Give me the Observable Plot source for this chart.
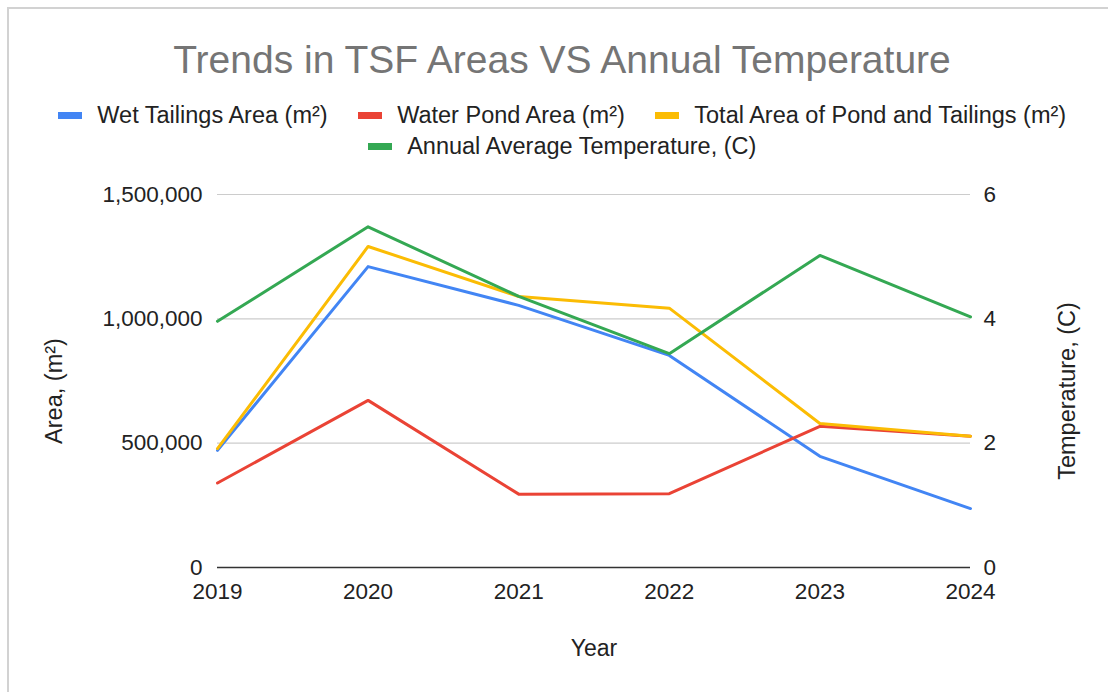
<!DOCTYPE html>
<html>
<head>
<meta charset="utf-8">
<script src="https://cdn.jsdelivr.net/npm/d3@7"></script>
<script src="https://cdn.jsdelivr.net/npm/@observablehq/plot@0.6"></script>
<style>
  html, body { margin: 0; padding: 0; background: #fff; overflow: hidden; }
  body { width: 1108px; height: 692px; position: relative; font-family: "Liberation Sans", Arial, sans-serif; }
  #card { position: absolute; left: 7px; top: 7px; width: 1200px; height: 800px;
          border-top: 2px solid #d2d2d2; border-left: 2px solid #d2d2d2; }
  #title { position: absolute; left: 0; top: 40px; width: 1124px; text-align: center;
           font-size: 39px; line-height: 1; color: #757575; white-space: nowrap; }
  .lrow { position: absolute; left: 0; width: 1124px; display: flex; justify-content: center;
          align-items: center; gap: 30px; font-size: 23.5px; line-height: 1; color: #222; white-space: nowrap; }
  .item { display: flex; align-items: center; }
  .sw { width: 24px; height: 7px; margin-right: 15.5px; }
  #chart { position: absolute; left: 0; top: 165px; }
</style>
</head>
<body>
<div id="card"></div>
<div id="title"></div>
<div class="lrow" id="row1" style="top:104px"></div>
<div class="lrow" id="row2" style="top:135px"></div>
<div id="chart"></div>
<script>
// ---- data ----
const titleText = "Trends in TSF Areas VS Annual Temperature";
const years = [2019, 2020, 2021, 2022, 2023, 2024];
const seriesNames = [
  "Wet Tailings Area (m²)",
  "Water Pond Area (m²)",
  "Total Area of Pond and Tailings (m²)",
  "Annual Average Temperature, (C)"
];
const seriesColors = ["#4285F4", "#EA4335", "#FBBC04", "#34A853"];
const wetTailings = [471000, 1210000, 1054000, 853000, 447000, 237000];
const waterPond   = [340000, 672000, 295000, 297000, 568000, 528000];
const totalArea   = [478000, 1291000, 1090000, 1043000, 579000, 528000];
const temperature = [3.96, 5.48, 4.36, 3.44, 5.02, 4.03];
const areaTicks = [0, 500000, 1000000, 1500000];
const tempTicks = [0, 2, 4, 6];
const xLabel = "Year";
const leftLabel = "Area, (m²)";
const rightLabel = "Temperature, (C)";

// ---- build ----
const k = areaTicks[areaTicks.length - 1] / tempTicks[tempTicks.length - 1];
const rows = [];
[wetTailings, waterPond, totalArea].forEach((arr, si) =>
  arr.forEach((v, i) => rows.push({year: years[i], value: v, series: seriesNames[si]})));
temperature.forEach((v, i) => rows.push({year: years[i], value: v * k, series: seriesNames[3]}));

document.getElementById("title").textContent = titleText;
function addItem(row, i) {
  const it = document.createElement("div"); it.className = "item";
  const sw = document.createElement("div"); sw.className = "sw"; sw.style.background = seriesColors[i];
  const tx = document.createElement("span"); tx.textContent = seriesNames[i];
  it.appendChild(sw); it.appendChild(tx); row.appendChild(it);
}
const r1 = document.getElementById("row1"), r2 = document.getElementById("row2");
addItem(r1, 0); addItem(r1, 1); addItem(r1, 2); addItem(r2, 3);

const chart = Plot.plot({
  width: 1108,
  height: 527,
  marginLeft: 217,
  marginRight: 138,
  marginTop: 29,
  marginBottom: 125,
  style: {fontFamily: "'Liberation Sans', Arial, sans-serif", fontSize: "22.5px", color: "#222", background: "transparent", overflow: "visible"},
  x: {domain: [years[0], years[years.length - 1]]},
  y: {domain: [areaTicks[0], areaTicks[areaTicks.length - 1]]},
  color: {domain: seriesNames, range: seriesColors},
  marks: [
    Plot.gridY(areaTicks.slice(1), {stroke: "#cccccc", strokeOpacity: 1, strokeWidth: 1.2}),
    Plot.ruleY([0], {stroke: "#333", strokeWidth: 1.5}),
    Plot.line(rows, {x: "year", y: "value", z: "series", stroke: "series", strokeWidth: 3}),
    Plot.axisY(areaTicks, {anchor: "left", tickSize: 0, tickPadding: 15, tickFormat: d3.format(","),
      label: leftLabel, labelAnchor: "center", labelArrow: "none", labelOffset: 172}),
    Plot.axisY(tempTicks.map(t => t * k), {anchor: "right", tickSize: 0, tickPadding: 13, tickFormat: d => d / k,
      label: rightLabel, labelAnchor: "center", labelArrow: "none", labelOffset: 104}),
    Plot.axisX(years, {tickSize: 0, tickPadding: 16, tickFormat: "d",
      label: xLabel, labelAnchor: "center", labelArrow: "none", labelOffset: 88})
  ]
});
// axis titles: slightly larger type; y titles sit a little below the frame centre
d3.select(chart).selectAll('g[aria-label="y-axis label"]').each(function () {
  const g = d3.select(this);
  g.attr("font-size", "23.5px");
  g.attr("transform", ((g.attr("transform") || "") + " translate(0,10)").trim());
});
d3.select(chart).selectAll('g[aria-label="x-axis label"]').attr("font-size", "23px");
document.getElementById("chart").appendChild(chart);
</script>
</body>
</html>
